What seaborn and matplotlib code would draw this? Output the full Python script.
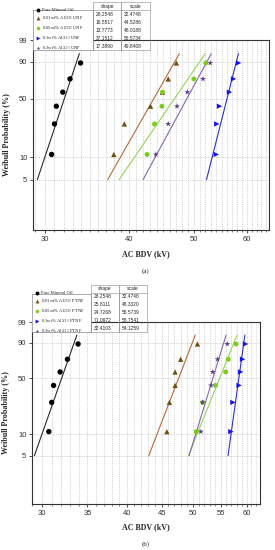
import numpy as np
import pandas as pd
import seaborn as sns
import matplotlib.pyplot as plt
from matplotlib.lines import Line2D
from matplotlib.ticker import NullFormatter

sns.set_style("ticks")
plt.rcParams['font.family'] = ['Liberation Sans', 'DejaVu Sans']
plt.rcParams['mathtext.fontset'] = 'stix'

# median-rank probabilities (%) of the 6 breakdowns
prob = [10.9, 26.6, 42.2, 57.8, 73.4, 89.1]

labels_a = ["Pure Mineral Oil", "0.01wt% Al$_2$O$_3$ UNF", "0.05wt% Al$_2$O$_3$ UNF",
            "0.1wt% Al$_2$O$_3$ UNF", "0.3wt% Al$_2$O$_3$ UNF"]
labels_b = ["Pure Mineral Oil", "0.01wt% Al$_2$O$_3$ PTNF", "0.05wt% Al$_2$O$_3$ PTNF",
            "0.1wt% Al$_2$O$_3$ PTNF", "0.3wt% Al$_2$O$_3$ PTNF"]

# AC BDV (kV)
bdv_oil = [30.7, 31.0, 31.2, 31.9, 32.7, 33.9]
bdv_a_001 = [38.0, 39.4, 43.1, 44.9, 45.8, 47.1]
bdv_a_005 = [42.6, 43.7, 44.8, 44.9, 50.0, 52.1]
bdv_a_01 = [54.0, 54.1, 54.6, 56.5, 57.3, 58.3]
bdv_a_03 = [43.9, 45.8, 47.2, 48.9, 51.6, 52.9]

bdv_b_001 = [45.8, 46.2, 47.1, 47.1, 48.0, 50.8]
bdv_b_005 = [50.6, 51.7, 54.0, 55.9, 56.4, 57.9]
bdv_b_01 = [56.9, 57.3, 58.5, 58.8, 59.2, 59.8]
bdv_b_03 = [51.4, 51.7, 53.2, 53.5, 54.4, 56.2]

shape_a = [28.2548, 16.5517, 13.7773, 37.1512, 17.3890]
scale_a = [32.4748, 44.5286, 48.0188, 56.5734, 49.8408]
shape_b = [28.2548, 25.8111, 24.7268, 71.0972, 32.4103]
scale_b = [32.4748, 48.3320, 55.5739, 58.7541, 54.1259]

fit_range = [5, 95]
yticks = [5, 10, 50, 90, 99]

colors = ['#000000', '#6e5214', '#7ccc1c', '#1414ee', '#5b3f8f']
line_colors = ['#2a2a2a', '#b8683a', '#95d35a', '#3030cc', '#8466ad']
markers = ['o', '^', 'h', '>', '*']
msize = [15, 15, 15, 15, 20]


def fwd(p):
    p = np.clip(np.asarray(p, dtype=float), 1e-4, 99.9999)
    return np.log(-np.log(1 - p / 100))


def inv(y):
    return 100 * (1 - np.exp(-np.exp(y)))


serif = ['Liberation Serif', 'DejaVu Serif']


def draw_panel(fig, rect, series, labels, shapes, scales, xlim, xticks,
               leg_rect, tab_rect, xlab_xy, tag, tag_xy):
    ax = fig.add_axes(rect)
    ax.set_xscale('log')
    ax.set_yscale('function', functions=(fwd, inv))

    for i, vals in enumerate(series):
        df = pd.DataFrame({'bdv': vals, 'prob': prob})
        sns.scatterplot(data=df, x='bdv', y='prob', ax=ax, marker=markers[i],
                        color=colors[i], s=msize[i], edgecolor='none',
                        legend=False, zorder=3)
        line_x = [scales[i] * (-np.log(1 - p / 100)) ** (1 / shapes[i]) for p in fit_range]
        fit = pd.DataFrame({'bdv': line_x, 'prob': fit_range})
        sns.lineplot(data=fit, x='bdv', y='prob', ax=ax, color=line_colors[i],
                     lw=0.8, legend=False, zorder=2)

    ax.set_xlim(*xlim)
    ax.set_ylim(1, 99.05)
    ax.set_xticks(xticks, labels=[str(t) for t in xticks])
    ax.set_xticks(list(range(29, int(xlim[1]) + 1)), minor=True)
    ax.xaxis.set_minor_formatter(NullFormatter())
    ax.set_yticks(yticks, labels=[str(t) for t in yticks])
    ax.set_yticks([], minor=True)
    ax.grid(True, which='both', axis='x', ls=':', lw=0.5, color='#b0b0b0')
    ax.grid(True, which='major', axis='y', ls=':', lw=0.5, color='#b0b0b0')
    ax.tick_params(which='major', direction='out', length=2.5, width=0.6,
                   labelsize=5.5, pad=1.5, colors='#333333')
    ax.tick_params(which='minor', direction='out', length=1.3, width=0.4)
    for sp in ax.spines.values():
        sp.set_linewidth(0.8)
        sp.set_color('#333333')

    ax.set_xlabel('AC BDV (kV)', family=serif, weight='bold', size=5.8)
    ax.set_ylabel('Weibull Probability (%)', family=serif, weight='bold', size=5.8)
    ax.xaxis.set_label_coords(*xlab_xy)
    ax.yaxis.set_label_coords(-0.095, 0.5)

    # legend box
    lax = fig.add_axes(leg_rect)
    lax.set_xticks([])
    lax.set_yticks([])
    lax.set_facecolor('white')
    for sp in lax.spines.values():
        sp.set_linewidth(0.5)
        sp.set_color('#888888')
    handles = [Line2D([], [], ls='none', marker=markers[i], color=colors[i],
                      markersize=2.8, markeredgewidth=0) for i in range(5)]
    lax.legend(handles, labels, loc='center left', frameon=False,
               prop={'family': serif, 'size': 3.3}, labelspacing=0.5,
               handlelength=0.8, handletextpad=0.6, borderaxespad=0.2)

    # shape / scale table
    tax = fig.add_axes(tab_rect)
    tax.axis('off')
    cells = [[f"{s:.4f}", f"{c:.4f}"] for s, c in zip(shapes, scales)]
    tb = tax.table(cellText=cells, colLabels=['shape', 'scale'], bbox=[0, 0, 1, 1],
                   cellLoc='left')
    tb.auto_set_font_size(False)
    tb.set_fontsize(3.5)
    nrows = len(cells)
    for (r, c), cell in tb.get_celld().items():
        cell.set_edgecolor('#888888')
        cell.set_linewidth(0.4)
        cell.set_facecolor('white')
        if r == 0:
            cell.visible_edges = 'closed'
        elif r == nrows:
            cell.visible_edges = 'BLR'
        else:
            cell.visible_edges = 'LR'

    fig.text(tag_xy[0], tag_xy[1], tag, ha='center', va='center', family=serif, size=5)
    return ax


fig = plt.figure(figsize=(2.75, 5.5), dpi=100)

draw_panel(fig, [0.12, 0.5818, 0.858, 0.3455],
           [bdv_oil, bdv_a_001, bdv_a_005, bdv_a_01, bdv_a_03],
           labels_a, shape_a, scale_a, (28.8, 64.7), [30, 40, 50, 60],
           [0.12, 0.909, 0.218, 0.0727], [0.338, 0.909, 0.207, 0.0873],
           (0.48, -0.105), '(a)', (0.531, 0.507))

draw_panel(fig, [0.1164, 0.0836, 0.829, 0.331],
           [bdv_oil, bdv_b_001, bdv_b_005, bdv_b_01, bdv_b_03],
           labels_b, shape_b, scale_b, (29.0, 62.8), [30, 35, 40, 45, 50, 55, 60],
           [0.1164, 0.3964, 0.2145, 0.069], [0.331, 0.3964, 0.2036, 0.0855],
           (0.499, -0.108), '(b)', (0.53, 0.011))

fig.savefig('out.png', dpi=100)
